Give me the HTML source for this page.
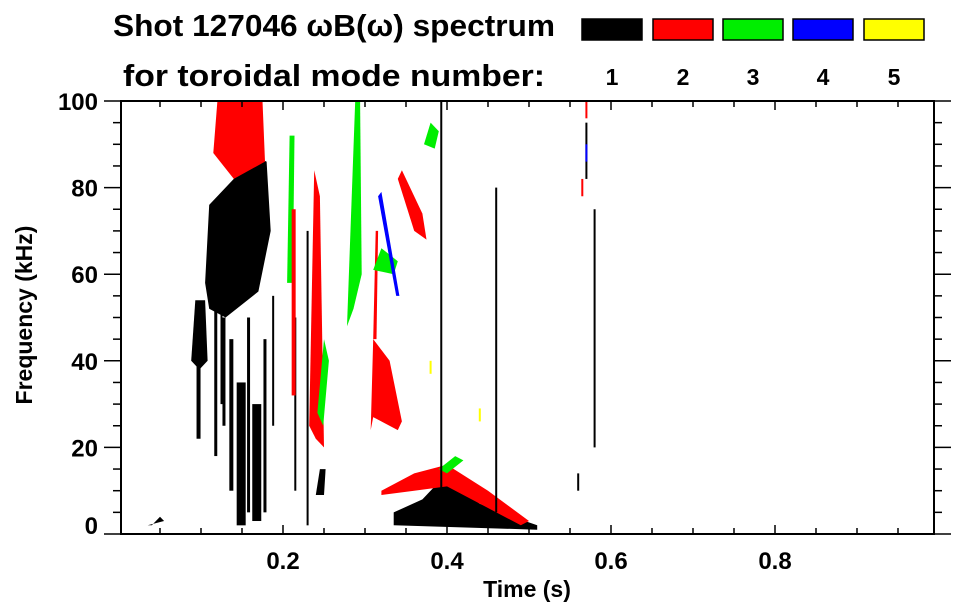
<!DOCTYPE html>
<html><head><meta charset="utf-8"><style>
html,body{margin:0;padding:0;background:#fff;}
svg{display:block;font-family:"Liberation Sans",Arial,sans-serif;font-weight:bold;}
</style></head><body>
<svg id="chart" width="963" height="615" viewBox="0 0 963 615" xmlns="http://www.w3.org/2000/svg">
<g id="marks"></g>
<g id="axes"></g>
<text x="113" y="36" font-size="31" textLength="442" lengthAdjust="spacingAndGlyphs">Shot 127046 ωB(ω) spectrum</text>
<text x="123" y="86" font-size="31" textLength="422" lengthAdjust="spacingAndGlyphs">for toroidal mode number:</text>
<g id="legend"></g>
<text x="527" y="597" font-size="23" text-anchor="middle">Time (s)</text>
<text transform="translate(32,315) rotate(-90)" font-size="23" text-anchor="middle">Frequency (kHz)</text>
</svg>
<script>
// ---- data ----
const modeNumbers = [1, 2, 3, 4, 5];
const modeColors = ["#000000", "#ff0000", "#00ee00", "#0000ff", "#ffff00"];
const xTickValues = [0.2, 0.4, 0.6, 0.8];
const xTickLabels = ["0.2", "0.4", "0.6", "0.8"];
const yTickValues = [0, 20, 40, 60, 80, 100];
const yTickLabels = ["0", "20", "40", "60", "80", "100"];
// polygon regions: mode index, time values (s), frequency values (kHz)
const regionMode = [0,0,0,0,0, 1,1,1,1,1,1, 2,2,2,2,2,2, 3];
const regionTimes = [
 [0.105,0.11,0.14,0.155,0.18,0.185,0.17,0.13,0.11],
 [0.088,0.093,0.105,0.108,0.098],
 [0.335,0.335,0.37,0.395,0.402,0.41,0.44,0.48,0.51,0.51],
 [0.24,0.245,0.252,0.25],
 [0.04,0.05,0.055,0.035],
 [0.115,0.12,0.175,0.178,0.14],
 [0.307,0.31,0.33,0.345,0.34,0.31],
 [0.34,0.345,0.37,0.375,0.36],
 [0.32,0.36,0.4,0.45,0.5,0.49,0.45,0.4,0.36,0.32],
 [0.232,0.238,0.245,0.25,0.24],
 [0.31,0.313,0.316,0.314],
 [0.278,0.288,0.294,0.296,0.286],
 [0.31,0.32,0.34,0.335],
 [0.372,0.38,0.39,0.385],
 [0.242,0.25,0.256,0.249],
 [0.205,0.208,0.214,0.212],
 [0.39,0.41,0.42,0.4],
 [0.316,0.32,0.342,0.338]
];
const regionFreqs = [
 [58,76,82,88,86,70,56,50,52],
 [40,54,54,40,38],
 [2,5,8,13,15,11,7,4,2,1],
 [9,15,15,9],
 [2,4,3,2],
 [88,100,100,86,82],
 [24,45,40,26,24,27],
 [82,84,74,68,70],
 [10,14,16,10,3,2,6,11,10,9],
 [25,84,78,20,22],
 [45,70,70,45],
 [48,100,100,60,52],
 [61,66,63,60],
 [90,95,93,89],
 [28,45,40,25],
 [58,92,92,58],
 [15,18,17,14],
 [78,79,55,55]
];
// thin streaks: mode, time, fLow, fHigh
const streakMode = [0,0,0,0,0,0,0,0,0,0,0,0,0,0,0,0,0, 1,1,1, 3,4,4];
const streakTime = [0.393,0.46,0.58,0.57,0.149,0.168,0.215,0.23,0.097,0.56,0.118,0.128,0.137,0.158,0.178,0.188,0.125, 0.213,0.565,0.57, 0.57,0.44,0.38];
const streakLow = [5,5,20,82,2,3,10,2,22,10,18,25,10,5,5,25,30, 32,78,96, 86,26,37];
const streakHigh = [100,80,75,95,35,30,50,70,42,14,55,50,45,50,45,55,55, 75,82,100, 90,29,40];
const streakWidth = [2,2,2,2,9,9,2,2,4,2,3,3,4,3,3,2,2, 4,2,2, 2,2,2];

// ---- axis functions ----
const X0 = 119, XS = 820, Y0 = 534, YS = 4.33;
const L = 121, R = 934, T = 101, B = 534;
const sx = t => X0 + XS * t;
const sy = f => Y0 - YS * f;
const NS = "http://www.w3.org/2000/svg";
function mk(tag, attrs, parent) {
  const e = document.createElementNS(NS, tag);
  for (const k in attrs) e.setAttribute(k, attrs[k]);
  parent.appendChild(e);
  return e;
}
const marks = document.getElementById('marks');
regionTimes.forEach((ts, i) => {
  const pts = ts.map((t, j) => sx(t).toFixed(1) + ',' + sy(regionFreqs[i][j]).toFixed(1)).join(' ');
  const p = mk('polygon', {points: pts, fill: modeColors[regionMode[i]]}, marks);
  
  
});
streakTime.forEach((t, i) => {
  const w = streakWidth[i];
  const r = mk('rect', {x: sx(t) - w / 2, y: sy(streakHigh[i]), width: w, height: sy(streakLow[i]) - sy(streakHigh[i]), fill: modeColors[streakMode[i]]}, marks);
  
  
});

// ---- axes ----
const axes = document.getElementById('axes');
const frame = mk('rect', {x: L, y: T, width: R - L, height: B - T, fill: 'none', stroke: '#000', 'stroke-width': 2}, axes);


for (let k = 1; k < 20; k++) {
  const t = k * 0.05;
  const x = sx(t);
  if (x <= L || x >= R) continue;
  const major = k % 4 === 0;
  const len = major ? 9 : 6;
  mk('line', {x1: x, y1: B, x2: x, y2: B - len, stroke: '#000', 'stroke-width': 1.5}, axes);
  mk('line', {x1: x, y1: T, x2: x, y2: T + len, stroke: '#000', 'stroke-width': 1.5}, axes);
}
for (let k = 0; k <= 20; k++) {
  const y = sy(k * 5);
  const major = k % 4 === 0;
  const len = major ? 17 : 8;
  mk('line', {x1: L, y1: y, x2: L - len, y2: y, stroke: '#000', 'stroke-width': 1.5}, axes);
  mk('line', {x1: R, y1: y, x2: R + len, y2: y, stroke: '#000', 'stroke-width': 1.5}, axes);
}
xTickValues.forEach((v, i) => {
  const t = mk('text', {x: sx(v), y: 569, 'font-size': 24, 'text-anchor': 'middle'}, axes);
  t.textContent = xTickLabels[i];
  
  
});
yTickValues.forEach((v, i) => {
  const yy = v === 0 ? sy(v) : sy(v) + 9;
  const t = mk('text', {x: 98, y: yy, 'font-size': 24, 'text-anchor': 'end'}, axes);
  t.textContent = yTickLabels[i];
  
  
});

// ---- legend ----
const legend = document.getElementById('legend');
const boxX = [582, 653, 723, 793, 864];
modeNumbers.forEach((m, i) => {
  const r = mk('rect', {x: boxX[i], y: 19, width: 60, height: 21, fill: modeColors[i], stroke: '#000', 'stroke-width': 1.5}, legend);
  
  
  const t = mk('text', {x: boxX[i] + 30, y: 85, 'font-size': 23, 'text-anchor': 'middle'}, legend);
  t.textContent = String(m);
  
  
});
</script>
</body></html>
